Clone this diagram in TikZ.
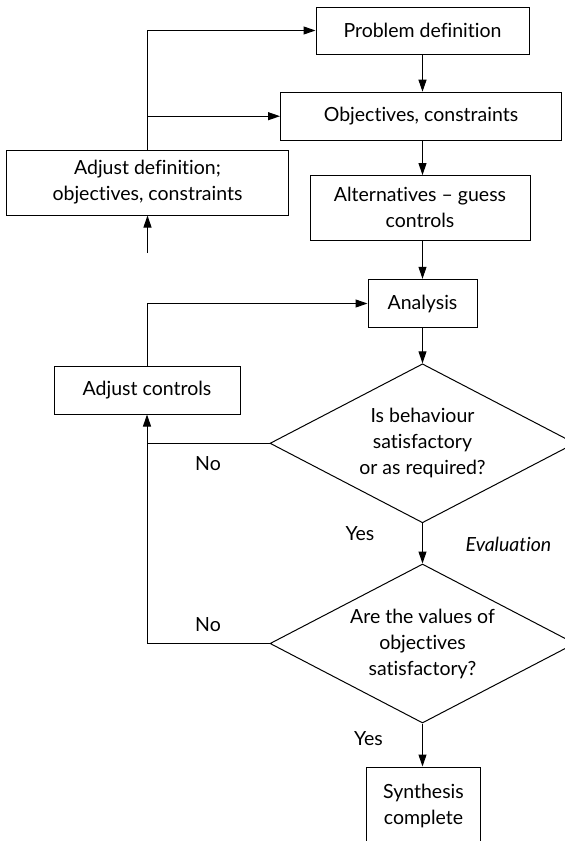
\documentclass[tikz,border=0pt]{standalone}
\usepackage{fontspec}
\setmainfont[Ligatures=NoCommon]{Lato}
\usetikzlibrary{arrows.meta,shapes.geometric}

\begin{document}
\begin{tikzpicture}[x=1pt,y=-1pt,
  every node/.style={font=\fontsize{19.5}{26}\selectfont},
  box/.style={draw,line width=1pt,inner sep=0pt,align=center},
  decision/.style={draw,line width=1pt,diamond,inner sep=0pt,align=center,
    minimum width=305pt,minimum height=159pt,shape aspect=1.92},
  flow/.style={line width=1pt,-{Triangle[length=12pt,width=8pt]}},
  plain/.style={line width=1pt},
  tag/.style={inner sep=0pt}]

\path[use as bounding box,clip] (0,0) rectangle (565,841);

% main column
\node[box,minimum width=213pt,minimum height=47pt] (prob) at (422.5,30.5) {Problem definition};
\node[box,minimum width=281pt,minimum height=48pt] (obj) at (421,116.2) {Objectives, constraints};
\node[box,minimum width=220pt,minimum height=64.5pt] (alt) at (420,207.8) {Alternatives -- guess\\controls};
\node[box,minimum width=109pt,minimum height=48.4pt] (ana) at (422.5,303.5) {Analysis};
\node[decision] (beh) at (422.5,443.3) {Is behaviour\\satisfactory\\or as required?};
\node[decision] (val) at (422.5,643.5) {Are the values of\\objectives\\satisfactory?};
\node[box,minimum width=114pt,minimum height=78pt] (syn) at (423.5,806) {Synthesis\\complete};

% feedback boxes on the left
\node[box,minimum width=282pt,minimum height=65pt] (adef) at (147.5,182.5) {Adjust definition;\\objectives, constraints};
\node[box,minimum width=186pt,minimum height=48pt] (adjc) at (147,390) {Adjust controls};

% labels
\node[tag] (no1) at (208,464) {No};
\node[tag] (yes1) at (360,534) {Yes};
\node[tag,font=\fontsize{19.5}{26}\selectfont\itshape] (eval) at (508.5,544) {Evaluation};
\node[tag] (no2) at (208,625) {No};
\node[tag] (yes2) at (368.5,739) {Yes};

\coordinate (feed) at (147.5,253);

% forward flow, all on the axis of the decisions
\draw[flow] (beh.north |- prob.south) -- (beh.north |- obj.north);
\draw[flow] (beh.north |- obj.south) -- (beh.north |- alt.north);
\draw[flow] (beh.north |- alt.south) -- (ana.north);
\draw[flow] (ana) -- (beh);
\draw[flow] (beh) -- (val);
\draw[flow] (val) -- (val.south |- syn.north);

% redefinition loop
\draw[flow] (feed) -- (adef.south);
\draw[flow] (adef.north) |- (prob.west);
\draw[flow] (adef.north |- obj.west) -- (obj.west);

% control adjustment loop
\draw[flow] (val.west) -| (adjc.south);
\draw[plain] (beh.west) -- (beh.west -| adjc.south);
\draw[flow] (adjc.north) |- (ana.west);

\end{tikzpicture}
\end{document}
